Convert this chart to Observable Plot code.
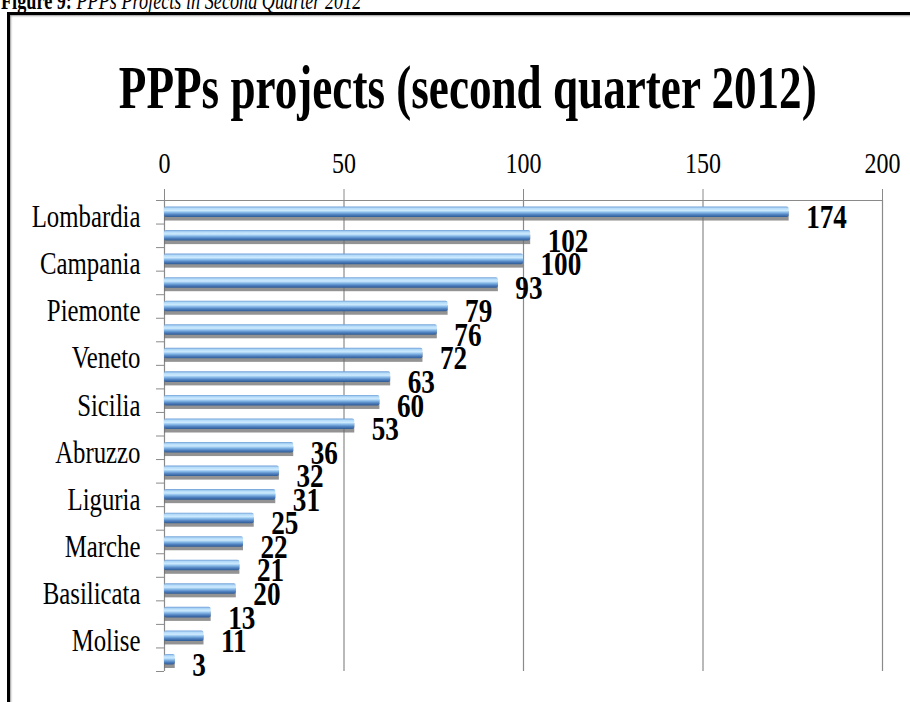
<!DOCTYPE html>
<html>
<head>
<meta charset="utf-8">
<script src="https://cdn.jsdelivr.net/npm/d3@7"></script>
<script src="https://cdn.jsdelivr.net/npm/@observablehq/plot@0.6"></script>
<style>
  body { margin: 0; background: #fff; }
  #wrap { position: relative; width: 910px; height: 702px; overflow: hidden; background: #fff;
          font-family: "Liberation Serif", "Times New Roman", serif; color: #000; }
  #caption { position: absolute; left: 1px; top: -12px; font-size: 26px; line-height: 26px; white-space: nowrap;
             transform: scaleX(0.7); transform-origin: left center; }
  #frame { position: absolute; left: 7px; top: 12px; width: 1000px; height: 800px;
           border-left: 3px solid #000; border-top: 3px solid #000; box-shadow: 1px 1px 2px #999 inset; }
  #title { position: absolute; left: 0; width: 914px; top: 57px; text-align: center; font-size: 61px; line-height: 61px;
           font-weight: bold; white-space: nowrap; transform: scaleX(0.74); transform-origin: center center; }
  #chart { position: absolute; left: 0; top: 140px; }
</style>
</head>
<body>
<div id="wrap">
  <div id="caption"><b>Figure 9:</b><i> PPPs Projects in Second Quarter 2012</i></div>
  <div id="frame"></div>
  <div id="title">PPPs projects (second quarter 2012)</div>
  <div id="chart"></div>
</div>
<script>
// Regions, top to bottom (only every other name is printed on the axis, as in the original)
const regions = ["Lombardia", "Lazio", "Campania", "Emilia-Romagna", "Piemonte", "Toscana", "Veneto", "Puglia",
  "Sicilia", "Calabria", "Abruzzo", "Sardegna", "Liguria", "Friuli-Venezia Giulia", "Marche", "Umbria",
  "Basilicata", "Trentino-Alto Adige", "Molise", "Valle d'Aosta"];
const values = [174, 102, 100, 93, 79, 76, 72, 63, 60, 53, 36, 32, 31, 25, 22, 21, 20, 13, 11, 3];
const xTicks = [0, 50, 100, 150, 200];
const xGrid = [50, 100, 150, 200];

const n = regions.length;
const data = regions.map((r, i) => ({region: r, value: values[i], index: i}));
const labelled = d3.range(0, n, 2);
const gray = "#8a8a8a";

const plot = Plot.plot({
  width: 910,
  height: 562,
  marginLeft: 164,
  marginRight: 28,
  marginTop: 60,
  marginBottom: 31,
  style: {fontFamily: "'Liberation Serif', 'Times New Roman', serif", background: "transparent", overflow: "visible"},
  x: {domain: [0, 200]},
  y: {domain: [0, n], reverse: true},
  marks: [
    Plot.ruleX(xGrid, {y1: 0, y2: n, stroke: gray, strokeWidth: 1.2}),
    Plot.ruleY([0], {x1: 0, x2: 200, stroke: gray, strokeWidth: 1.2}),
    Plot.ruleX([0], {y1: 0, y2: n, stroke: gray, strokeWidth: 1.2}),
    Plot.axisX(xTicks, {anchor: "top", tickSize: 12, tickPadding: 16, fontSize: 30, stroke: gray, fill: "black", label: null}),
    Plot.axisY(d3.range(0, n + 1), {anchor: "left", tickSize: 8, tickFormat: () => "", stroke: gray, label: null}),
    Plot.axisY(labelled.map(i => i + 0.5), {anchor: "left", tickSize: 0, tickPadding: 24, dy: 5, fontSize: 31, fill: "black",
      tickFormat: v => regions[Math.round(v - 0.5)], label: null}),
    Plot.rectX(data, {x1: 0, x2: "value", y1: "index", y2: d => d.index + 1, insetTop: 7, insetBottom: 7,
      dy: 4, fill: "#6f6f6f", fillOpacity: 0.75, ariaLabel: "bar shadow"}),
    Plot.rectX(data, {x1: 0, x2: "value", y1: "index", y2: d => d.index + 1, insetTop: 6.5, insetBottom: 6.5,
      rx: 2, fill: "url(#barGrad)", ariaLabel: "bars"}),
    Plot.text(data, {x: "value", y: d => d.index + 0.5, text: d => String(d.value), dx: 17, dy: 5,
      textAnchor: "start", fontSize: 34, fontWeight: "bold", fill: "black", ariaLabel: "value labels"})
  ]
});

document.getElementById("chart").append(plot);

const svg = d3.select(plot);
const defs = svg.insert("defs", ":first-child");
const grad = defs.append("linearGradient").attr("id", "barGrad")
  .attr("x1", 0).attr("y1", 0).attr("x2", 0).attr("y2", 1);
[[0, "#6f9fd6"], [0.18, "#b5dcfa"], [0.38, "#cdeafd"], [0.56, "#88bbe9"], [0.78, "#4f80bf"], [1, "#2d5a94"]]
  .forEach(([o, c]) => grad.append("stop").attr("offset", o).attr("stop-color", c));
const filt = defs.append("filter").attr("id", "shadowBlur")
  .attr("x", "-5%").attr("y", "-100%").attr("width", "110%").attr("height", "300%");
filt.append("feGaussianBlur").attr("stdDeviation", 2.2);
svg.select('g[aria-label="bar shadow"]').attr("filter", "url(#shadowBlur)");

// Condensed text look of the original
svg.selectAll("text").each(function () {
  const g = this.closest("g[aria-label]");
  const label = g ? g.getAttribute("aria-label") : "";
  const s = label === "value labels" ? 0.66 : 0.8;
  const x = +this.getAttribute("x") || 0;
  const y = +this.getAttribute("y") || 0;
  const t = this.getAttribute("transform") || "";
  this.setAttribute("transform", `${t} translate(${x},${y}) scale(${s},1) translate(${-x},${-y})`);
});
</script>
</body>
</html>
